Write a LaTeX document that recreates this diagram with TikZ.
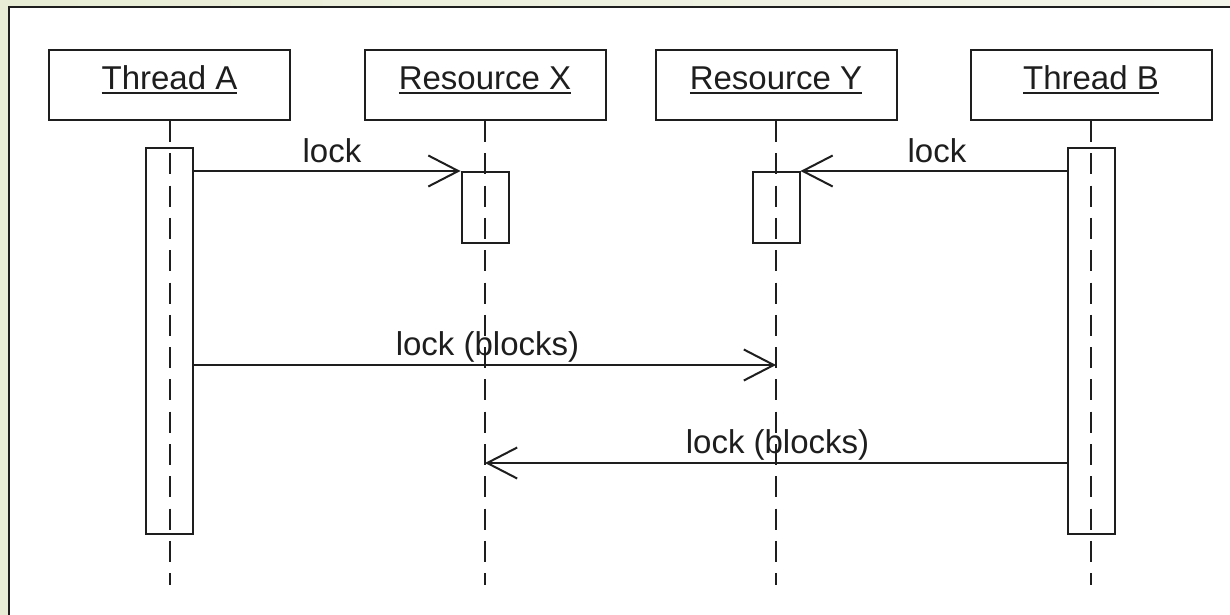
\documentclass[tikz,border=0pt]{standalone}
\usepackage{fontspec}
\setmainfont{Liberation Sans}
\usetikzlibrary{arrows.meta}
\definecolor{bgleft}{HTML}{E8EDD5}
\definecolor{bgright}{HTML}{F3F5EA}
\definecolor{inkc}{HTML}{1E1E1E}
\newcommand\ulinetext[1]{\setbox0\hbox{#1}\rlap{\rule[-4pt]{\wd0}{2pt}}\box0}
\begin{document}
\begin{tikzpicture}[x=1pt,y=-1pt, line width=2pt, draw=inkc,
  headbox/.style={draw, rectangle, minimum width=241pt, inner sep=0pt,
    text height=40pt, text depth=30pt, text=inkc, font=\fontsize{33}{40}\selectfont},
  actbox/.style={draw, fill=white, minimum width=47pt, inner sep=0pt, anchor=north},
  lifeline/.style={dash pattern=on 21pt off 11.3pt},
  msg/.style={-{Straight Barb[length=30pt,width=31pt]}},
  lbl/.style={font=\fontsize{33}{40}\selectfont, text=inkc, inner sep=0pt, anchor=base}]
\useasboundingbox (0,0) rectangle (1230,615);
% frame
\shade[left color=bgleft, right color=bgright] (0,0) rectangle (1230,615);
\fill[white] (9,7) rectangle (1230,615);
\draw (9,616) -- (9,7) -- (1231,7);
% heads
\node[headbox] (hA) at (169.5,85) {\ulinetext{Thread A}};
\node[headbox] (hX) at (485,85) {\ulinetext{Resource X}};
\node[headbox] (hY) at (776,85) {\ulinetext{Resource Y}};
\node[headbox] (hB) at (1091,85) {\ulinetext{Thread B}};
% activations
\node[actbox, minimum height=386pt] (aA) at (hA.south |- 0,147) {};
\node[actbox, minimum height=386pt] (aB) at (hB.south |- 0,147) {};
\node[actbox, minimum height=71pt] (aX) at (hX.south |- 0,171) {};
\node[actbox, minimum height=71pt] (aY) at (hY.south |- 0,171) {};
% lifelines
\coordinate (bot) at (0,585);
\draw[lifeline] (hA.south) -- (hA.south |- bot);
\draw[lifeline] (hX.south) -- (hX.south |- bot);
\draw[lifeline] (hY.south) -- (hY.south |- bot);
\draw[lifeline] (hB.south) -- (hB.south |- bot);
% messages
\coordinate (m3) at (0,365);
\coordinate (m4) at (0,463);
\draw[msg] (aA.east |- aX.north) -- (aX.north west);
\draw[msg] (aB.west |- aY.north) -- (aY.north east);
\draw[msg] (aA.east |- m3) -- (hY.south |- m3);
\draw[msg] (aB.west |- m4) -- (hX.south |- m4);
% labels
\node[lbl] (l1) at (332,162) {lock};
\node[lbl] (l2) at (937,162) {lock};
\node[lbl] (l3) at (487.5,355) {lock (blocks)};
\node[lbl] (l4) at (777.5,453) {lock (blocks)};
\end{tikzpicture}
\end{document}
